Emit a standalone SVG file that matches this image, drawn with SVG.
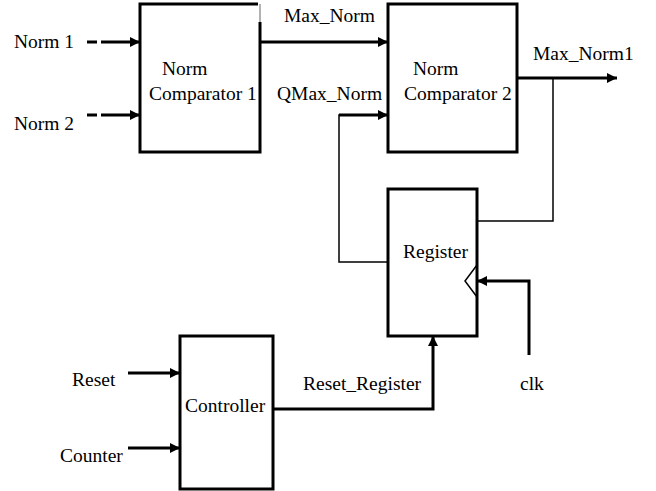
<svg xmlns="http://www.w3.org/2000/svg" width="656" height="491" viewBox="0 0 656 491">
<style>
text{font-family:"Liberation Serif","Times New Roman",serif;font-size:19.5px;fill:#000}
.box{fill:#fff;stroke:#000;stroke-width:3}
.w{fill:none;stroke:#000;stroke-width:3}
.t{fill:none;stroke:#000;stroke-width:1.5}
</style>
<defs>
<marker id="ah" viewBox="0 0 10 10" refX="10" refY="5" markerWidth="10" markerHeight="10" markerUnits="userSpaceOnUse" orient="auto">
<path d="M0,0 L10,5 L0,10 Z" fill="#000"/>
</marker>
</defs>
<g id="connectors">
<path class="w" d="M87,42 H97 M101,42 H140" marker-end="url(#ah)"/>
<path class="w" d="M87,115 H97 M101,115 H140" marker-end="url(#ah)"/>
<path class="w" d="M260,42 H388" marker-end="url(#ah)"/>
<path class="t" d="M388,262 H339 V115 H380"/>
<path class="w" d="M339,115 H388" marker-end="url(#ah)"/>
<path class="w" d="M517,78 H617" marker-end="url(#ah)"/>
<path class="t" d="M553,78 V221 H477"/>
<path class="w" d="M529,355 V281 H477" marker-end="url(#ah)"/>
<path class="w" d="M128,373 H180" marker-end="url(#ah)"/>
<path class="w" d="M128,448 H180" marker-end="url(#ah)"/>
<path class="w" d="M273,409 H433 V336" marker-end="url(#ah)"/>
</g>
<g id="nc1">
<rect class="box" x="140" y="4" width="120" height="148"/>
<line x1="260" y1="2" x2="260" y2="22" stroke="#fff" stroke-width="4"/>
<line x1="260" y1="4" x2="260" y2="22" stroke="#999" stroke-width="1.5"/>
<text x="162" y="75">Norm</text>
<text x="149" y="100">Comparator 1</text>
</g>
<g id="nc2">
<rect class="box" x="388" y="4" width="129" height="148"/>
<text x="413" y="75">Norm</text>
<text x="404" y="100">Comparator 2</text>
</g>
<g id="register">
<rect class="box" x="388" y="189" width="89" height="147"/>
<path d="M477,265 L465,281 L477,297" fill="none" stroke="#000" stroke-width="1.5"/>
<text x="403" y="258">Register</text>
</g>
<g id="controller">
<rect class="box" x="180" y="336" width="93" height="153"/>
<text x="185" y="412">Controller</text>
</g>
<g id="labels">
<text x="14" y="48">Norm 1</text>
<text x="14" y="130">Norm 2</text>
<text x="284" y="22">Max_Norm</text>
<text x="277" y="100">QMax_Norm</text>
<text x="533" y="60">Max_Norm1</text>
<text x="72" y="386">Reset</text>
<text x="60" y="462">Counter</text>
<text x="303" y="390">Reset_Register</text>
<text x="520" y="390">clk</text>
</g>
</svg>
